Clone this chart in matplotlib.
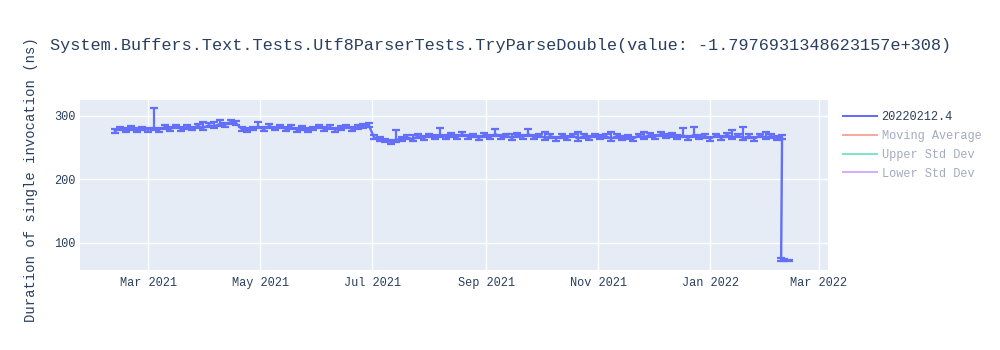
import matplotlib
matplotlib.use("Agg")
import matplotlib.pyplot as plt
import matplotlib.dates as mdates
from matplotlib.lines import Line2D
import pandas as pd
import numpy as np

# ---------------- data ----------------
title = "System.Buffers.Text.Tests.Utf8ParserTests.TryParseDouble(value: -1.7976931348623157e+308)"
y_label = "Duration of single invocation (ns)"
series_name = "20220212.4"
legend_only = ["Moving Average", "Upper Std Dev", "Lower Std Dev"]

start_date = "2021-02-11"
step_days = 3
main_values = [
    276, 280, 277, 281, 277, 280, 278,
    281,
    278, 282, 279, 283, 279, 282, 280, 284,
    281, 285, 283, 287, 286, 290, 288,
    279, 277, 280,
    283, 279, 284, 280, 283, 279, 282, 278, 281, 277,
    280, 283, 279, 282, 278, 281, 283, 279, 282, 284, 286,
    266, 263, 261, 259, 262, 264, 266, 263, 268, 265, 269, 266, 270, 267,
    270, 266, 271, 267, 269, 265, 270, 266, 271, 267,
    269, 265, 270, 267, 271, 266, 269, 265, 268, 264,
    268, 265, 269, 264, 268, 265, 269, 266, 268, 264,
    268, 265, 267, 264, 269, 266, 270, 267, 271, 268,
    270, 266, 269, 265, 270, 266, 268, 264, 269, 265,
    270, 266, 269, 265, 268, 264, 269, 266, 268, 265,
    266,
]
main_err_up = [
    3, 3, 3, 3, 3, 3, 3, 31, 3, 3,
    3, 3, 3, 3, 3, 3, 9, 3, 7, 6,
    3, 3, 3, 3, 3, 3, 7, 3, 3, 3,
    3, 3, 3, 3, 3, 3, 3, 3, 3, 3,
    3, 3, 3, 3, 3, 3, 3, 3, 3, 3,
    3, 15, 3, 3, 6, 3, 3, 3, 3, 11,
    3, 3, 3, 3, 3, 3, 3, 3, 3, 8,
    3, 3, 7, 3, 3, 8, 3, 3, 9, 3,
    3, 3, 3, 3, 10, 3, 3, 3, 3, 3,
    11, 3, 3, 3, 3, 3, 9, 3, 3, 3,
    3, 3, 3, 11, 3, 12, 3, 3, 3, 3,
    3, 3, 11, 3, 17, 3, 3, 3, 9, 3,
    3, 3,
]
main_err_down = [3] * len(main_values)
tail_dates = ["2022-02-08 12:00", "2022-02-10 00:00", "2022-02-13 00:00"]
tail_values = [74, 73, 72]
tail_err_up = [2, 1, 1]
tail_err_down = [2, 1, 1]

main_dates = pd.date_range(start_date, periods=len(main_values), freq=f"{step_days}D")
dates = list(main_dates) + list(pd.to_datetime(tail_dates, format="mixed"))
values = main_values + tail_values
err_up = main_err_up + tail_err_up
err_down = main_err_down + tail_err_down

x_min, x_max = "2021-01-23", "2022-03-06"
y_min, y_max = 57.5, 324.7
y_ticks = [100, 200, 300]

# ---------------- style ----------------
FONT = ["Liberation Mono", "DejaVu Sans Mono"]
plt.rcParams["font.family"] = FONT
TEXT = "#2a3f5f"
TRACE = "#636efa"
FADED = ["#EF553B", "#00cc96", "#ab63fa"]

fig = plt.figure(figsize=(10, 3.5), dpi=100)
ax = fig.add_axes([0.08, 0.2286, 0.748, 0.4857])
ax.set_facecolor("#E5ECF6")
for s in ax.spines.values():
    s.set_visible(False)
ax.grid(True, color="white", linewidth=1)
ax.set_axisbelow(True)

ax.errorbar(dates, values, yerr=[err_down, err_up], color=TRACE, linewidth=1.7,
            elinewidth=1.6, capsize=3.0, capthick=1.6, zorder=3)

ax.set_xlim(pd.Timestamp(x_min), pd.Timestamp(x_max))
ax.set_ylim(y_min, y_max)
ax.set_yticks(y_ticks)
ax.xaxis.set_major_locator(mdates.MonthLocator(bymonth=[1, 3, 5, 7, 9, 11]))
ax.xaxis.set_major_formatter(mdates.DateFormatter("%b %Y"))
ax.tick_params(axis="both", length=0, labelsize=8.6, labelcolor=TEXT)
ax.tick_params(axis="y", pad=3)
ax.tick_params(axis="x", pad=5)

fig.text(0.05, 0.869, title, fontsize=12.2, color=TEXT, ha="left", va="center")
fig.text(0.031, 0.486, y_label, fontsize=10, color=TEXT, rotation=90,
         ha="center", va="center")

handles = [Line2D([], [], color=TRACE, linewidth=1.44)]
for c in FADED:
    handles.append(Line2D([], [], color=c, linewidth=1.44, alpha=0.5))
labels = [series_name] + legend_only
leg = fig.legend(handles, labels, loc="upper left", bbox_to_anchor=(0.838, 0.697),
                 frameon=False, fontsize=8.6, handlelength=2.9, handletextpad=0.35,
                 labelspacing=0.58, borderaxespad=0,
                 labelcolor=[TEXT, "#a3acbb", "#a3acbb", "#a3acbb"])

fig.savefig("out.png", dpi=100)
